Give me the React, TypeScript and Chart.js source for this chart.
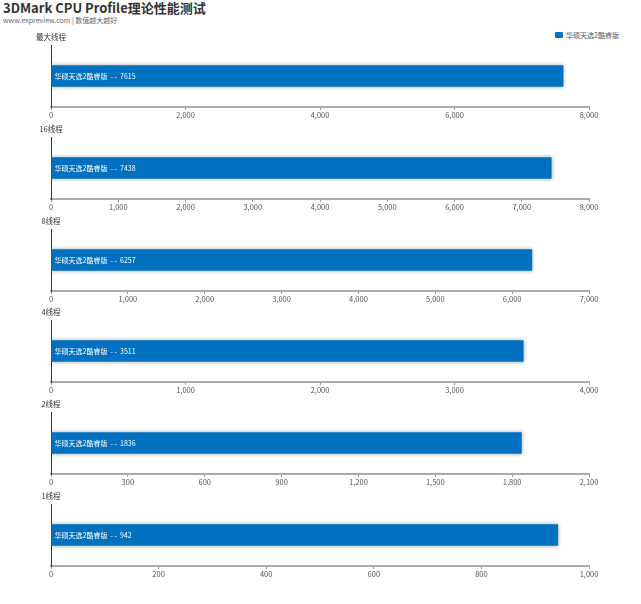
import React, { useEffect, useRef } from "react";
import { Chart, registerables } from "chart.js";

Chart.register(...registerables);

const titleText = "3DMark CPU Profile理论性能测试";
const subtitleText = "www.expreview.com | 数值越大越好";
const seriesName = "华硕天选2酷睿版";
const categories = ["最大线程", "16线程", "8线程", "4线程", "2线程", "1线程"];
const values = [7615, 7438, 6257, 3511, 1836, 942];
const axisMax = [8000, 8000, 7000, 4000, 2100, 1000];
const axisStep = [2000, 1000, 1000, 1000, 300, 200];

const BAR_COLOR = "#0070c0";
const FONT = "'Noto Sans CJK SC', 'Noto Sans', sans-serif";

function Panel({ index, top }: { index: number; top: number }) {
  const ref = useRef<HTMLCanvasElement | null>(null);
  useEffect(() => {
    if (!ref.current) return;
    const cat = categories[index];
    const val = values[index];
    const panelPlugin = {
      id: "panelDeco",
      beforeDatasetsDraw(chart: any) {
        const ctx = chart.ctx;
        ctx.save();
        ctx.shadowColor = "rgba(0,0,0,0.35)";
        ctx.shadowBlur = 4;
        ctx.shadowOffsetX = 0;
        ctx.shadowOffsetY = 0;
      },
      afterDatasetsDraw(chart: any) {
        const ctx = chart.ctx;
        ctx.restore();
        const meta = chart.getDatasetMeta(0);
        const bar: any = meta.data[0];
        if (bar) {
          ctx.save();
          ctx.fillStyle = "#ffffff";
          ctx.font = `7px ${FONT}`;
          ctx.textAlign = "left";
          ctx.textBaseline = "middle";
          ctx.fillText(`${seriesName}  - -  ${val}`, bar.base + 3, bar.y);
          ctx.restore();
        }
      },
      afterDraw(chart: any) {
        const ctx = chart.ctx;
        const area = chart.chartArea;
        ctx.save();
        ctx.fillStyle = "#333333";
        ctx.font = `7.5px ${FONT}`;
        ctx.textAlign = "center";
        ctx.textBaseline = "middle";
        ctx.fillText(cat, area.left, area.top - 8);
        ctx.restore();
      },
    };
    const chart = new Chart(ref.current, {
      type: "bar",
      data: {
        labels: [cat],
        datasets: [
          {
            label: seriesName,
            data: [val],
            backgroundColor: BAR_COLOR,
            borderWidth: 0,
            barThickness: 21,
          },
        ],
      },
      options: {
        responsive: false,
        animation: false,
        indexAxis: "y",
        layout: { padding: { left: 51, right: 52, top: 16, bottom: 0 } },
        plugins: {
          legend: { display: false },
          tooltip: { enabled: false },
          title: { display: false },
        },
        scales: {
          x: {
            min: 0,
            max: axisMax[index],
            ticks: {
              stepSize: axisStep[index],
              color: "#555555",
              padding: 1,
              font: { size: 7.5, family: FONT },
              maxRotation: 0,
              autoSkip: false,
              callback: (v: any) => Number(v).toLocaleString("en-US"),
            },
            grid: {
              drawOnChartArea: false,
              drawTicks: true,
              tickLength: 3,
              color: "#999999",
            },
            border: { display: true, color: "#aaaaaa", width: 2 },
            afterFit: (s: any) => {
              s.height = 14;
            },
          },
          y: {
            ticks: { display: false },
            grid: { display: false },
            border: { display: true, color: "#333333", width: 1 },
            afterFit: (s: any) => {
              s.width = 0;
            },
          },
        },
      } as any,
      plugins: [panelPlugin],
    });
    return () => chart.destroy();
  }, [index]);
  return (
    <canvas
      ref={ref}
      width={641}
      height={92}
      style={{ position: "absolute", left: 0, top, width: 641, height: 92 }}
    />
  );
}

export default function App() {
  return (
    <div
      style={{
        position: "absolute",
        left: 0,
        top: 0,
        width: 641,
        height: 604,
        background: "#ffffff",
        overflow: "hidden",
        fontFamily: FONT,
      }}
    >
      <div
        style={{
          position: "absolute",
          left: 3,
          top: 0,
          fontSize: 13,
          fontWeight: "bold",
          color: "#333333",
          lineHeight: "16px",
          whiteSpace: "nowrap",
        }}
      >
        {titleText}
      </div>
      <div
        style={{
          position: "absolute",
          left: 3,
          top: 15,
          fontSize: 7,
          color: "#666666",
          lineHeight: "10px",
          whiteSpace: "nowrap",
        }}
      >
        {subtitleText}
      </div>
      <div
        style={{
          position: "absolute",
          left: 555,
          top: 30,
          display: "flex",
          alignItems: "center",
          whiteSpace: "nowrap",
        }}
      >
        <span
          style={{
            display: "inline-block",
            width: 8,
            height: 6,
            background: BAR_COLOR,
            borderRadius: 1,
            marginRight: 3,
          }}
        />
        <span style={{ fontSize: 7, color: "#555555", lineHeight: "10px" }}>
          {seriesName}
        </span>
      </div>
      {categories.map((c, i) => (
        <Panel key={c} index={i} top={Math.round(29 + i * 91.8)} />
      ))}
    </div>
  );
}
